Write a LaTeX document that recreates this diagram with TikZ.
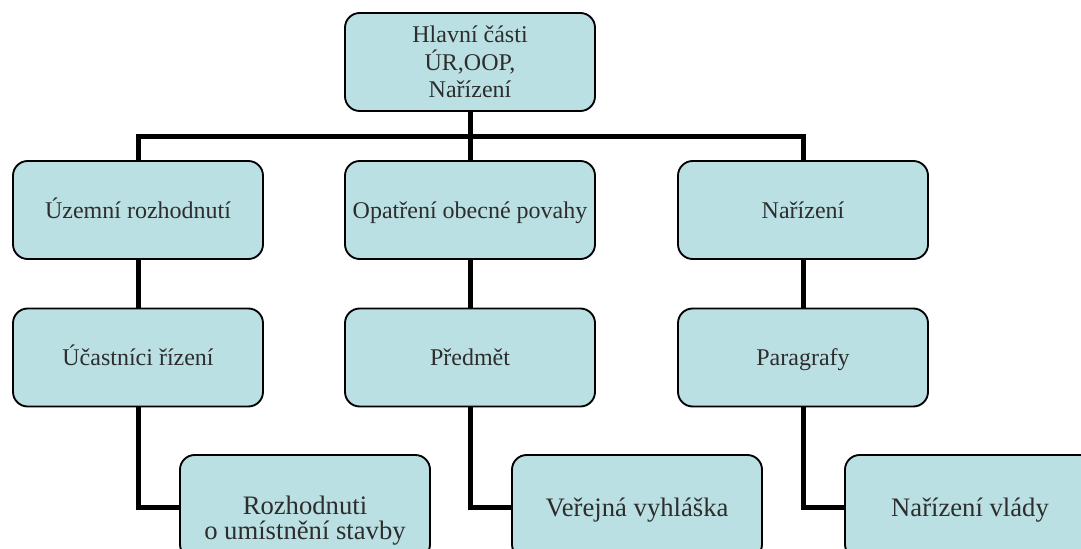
\documentclass[tikz,border=0pt]{standalone}
\usepackage{fontspec}
\setmainfont{Liberation Serif}
\definecolor{boxfill}{RGB}{187,224,227}
\definecolor{txtgray}{RGB}{45,45,45}
\begin{document}
\begin{tikzpicture}[x=0.75pt,y=-0.75pt,
  box/.style={draw=black,line width=1.4pt,fill=boxfill,rounded corners=11pt,
    minimum width=187.5pt,minimum height=73.5pt,inner sep=0pt,text=txtgray,
    font=\fontsize{18}{20.6}\selectfont},
  one/.style={text height=12.6pt,text depth=0pt},
  multi/.style={align=center},
  big/.style={font=\fontsize{20}{18.8}\selectfont,minimum height=78pt},
  onebig/.style={text height=14pt,text depth=0pt},
  freetext/.style={inner sep=0pt,text=txtgray,align=center,font=\fontsize{20}{18.8}\selectfont},
  conn/.style={line width=3.75pt,draw=black,line join=miter}]
\clip (0,0) rectangle (1081,549);
% nodes
\node[box,multi] (top) at (470,62) {Hlavní části\\ÚR,OOP,\\Nařízení};
\node[box,one] (l1a) at (138,210) {Územní rozhodnutí};
\node[box,one] (l1b) at (470,210) {Opatření obecné povahy};
\node[box,one] (l1c) at (803,210) {Nařízení};
\node[box,one] (l2a) at (138,357.5) {Účastníci řízení};
\node[box,one] (l2b) at (470,357.5) {Předmět};
\node[box,one] (l2c) at (803,357.5) {Paragrafy};
\node[box,big] (l3a) at (305,507) {};
\node[freetext] (l3atxt) at (305,521) {Rozhodnuti\\o umístnění stavby};
\node[box,big,onebig] (l3b) at (637,507) {Veřejná vyhláška};
\node[box,big,onebig] (l3c) at (970,507) {Nařízení vlády};
% connectors
\coordinate (bar) at (470,137);
\draw[conn] (top.south) -- (l1b.north);
\draw[conn] (l1a.north) |- (bar) -| (l1c.north);
\draw[conn] (l1a.south) -- (l2a.north);
\draw[conn] (l1b.south) -- (l2b.north);
\draw[conn] (l1c.south) -- (l2c.north);
\draw[conn] (l2a.south) |- (l3a.west);
\draw[conn] (l2b.south) |- (l3b.west);
\draw[conn] (l2c.south) |- (l3c.west);
\end{tikzpicture}
\end{document}
